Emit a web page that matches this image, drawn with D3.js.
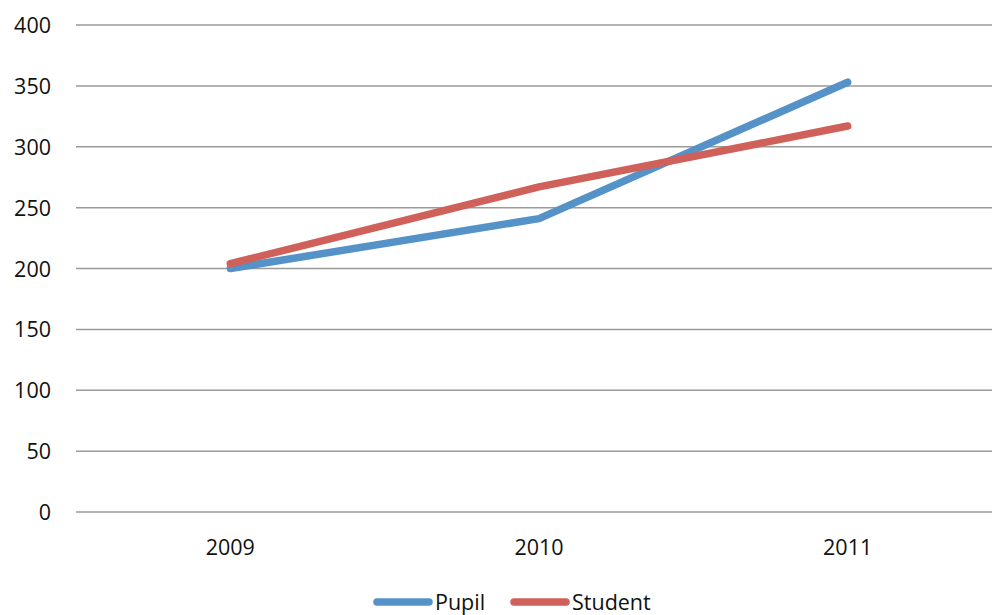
<!DOCTYPE html>
<html><head><meta charset="utf-8">
<script src="https://cdn.jsdelivr.net/npm/d3@7"></script>
<style>body{margin:0;background:#fff;}svg{display:block;}</style>
</head><body>
<svg id="c" width="992" height="615"></svg>
<script>
const categories = ["2009", "2010", "2011"];
const pupil = [200, 241, 353];
const student = [204, 267, 317];
const yTicks = [0, 50, 100, 150, 200, 250, 300, 350, 400];
const seriesNames = ["Pupil", "Student"];
const colors = ["#5592C8", "#D0605A"];

const svg = d3.select("#c");
const mLeft = 76, mRight = 1002, mTop = 25, mBottom = 512;
const x = d3.scaleBand().domain(categories).range([mLeft, mRight]);
const y = d3.scaleLinear().domain([0, 400]).range([mBottom, mTop]);
const font = "'Open Sans', 'Liberation Sans', sans-serif";
const fs = 21.5;

svg.append("g").selectAll("line").data(yTicks).join("line")
  .attr("x1", mLeft).attr("x2", 992)
  .attr("y1", d => y(d)).attr("y2", d => y(d))
  .attr("stroke", "#9a9a9a").attr("stroke-width", 1.5);

svg.append("g").selectAll("text").data(yTicks).join("text")
  .attr("x", 51).attr("y", d => y(d) + 8)
  .attr("text-anchor", "end").attr("font-family", font).attr("font-size", fs)
  .attr("fill", "#111").text(d => d);

svg.append("g").selectAll("text").data(categories).join("text")
  .attr("x", d => x(d) + x.bandwidth() / 2).attr("y", 555)
  .attr("text-anchor", "middle").attr("font-family", font).attr("font-size", fs)
  .attr("fill", "#111").text(d => d);

const line = d3.line().x((d, i) => x(categories[i]) + x.bandwidth() / 2).y(d => y(d));
[pupil, student].forEach((s, i) => {
  svg.append("path").attr("d", line(s)).attr("fill", "none")
    .attr("stroke", colors[i]).attr("stroke-width", 7.5)
    .attr("stroke-linecap", "round").attr("stroke-linejoin", "round");
});

const legX = [377, 514];
seriesNames.forEach((n, i) => {
  svg.append("line").attr("x1", legX[i]).attr("x2", legX[i] + 52)
    .attr("y1", 602).attr("y2", 602).attr("stroke", colors[i])
    .attr("stroke-width", 7.5).attr("stroke-linecap", "round");
  svg.append("text").attr("x", legX[i] + 58).attr("y", 610)
    .attr("font-family", font).attr("font-size", fs).attr("fill", "#111").text(n);
});
</script>
</body></html>
